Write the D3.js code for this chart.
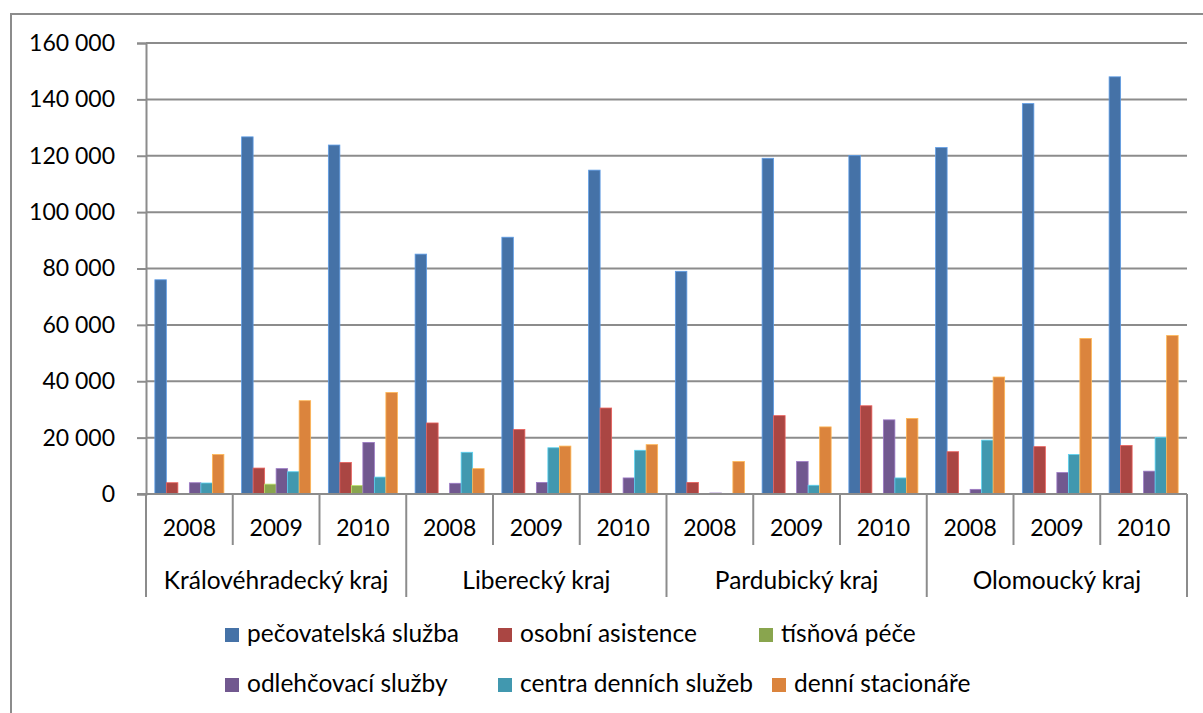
<!DOCTYPE html>
<html>
<head>
<meta charset="utf-8">
<script src="https://cdn.jsdelivr.net/npm/d3@7"></script>
<style>
  html, body { margin: 0; padding: 0; background: #fff; }
  svg { display: block; font-family: Lato, "Open Sans", sans-serif; }
</style>
</head>
<body>
<svg id="chart" width="1203" height="713"></svg>
<script>
// ---- data ----
const regions = ["Královéhradecký kraj", "Liberecký kraj", "Pardubický kraj", "Olomoucký kraj"];
const years = ["2008", "2009", "2010"];
const seriesNames = ["pečovatelská služba", "osobní asistence", "tísňová péče",
                     "odlehčovací služby", "centra denních služeb", "denní stacionáře"];
const pecovatelska = [76000, 126700, 123800, 85100, 91100, 114900, 79000, 119100, 120100, 122900, 138500, 148000];
const osobni       = [4000, 9200, 11200, 25200, 22900, 30500, 4100, 27800, 31300, 15000, 16800, 17200];
const tisnova      = [0, 3500, 3000, 0, 0, 0, 0, 0, 0, 0, 0, 0];
const odlehcovaci  = [4000, 9000, 18300, 3800, 4100, 5700, 350, 11500, 26300, 1650, 7600, 8100];
const centra       = [3900, 7900, 6000, 14800, 16400, 15500, 0, 3100, 5700, 19100, 14000, 20100];
const denni        = [14000, 33100, 36000, 9000, 17000, 17500, 11500, 23800, 26800, 41500, 55200, 56200];
const yTicks = [0, 20000, 40000, 60000, 80000, 100000, 120000, 140000, 160000];
const colors = ["#4572A7", "#AA4643", "#89A54E", "#71588F", "#4198AF", "#DB843D"];

(function () {
// ---- build ----
const seriesValues = [pecovatelska, osobni, tisnova, odlehcovaci, centra, denni];
const groups = [];
regions.forEach((r, ri) => years.forEach((yr, yi) => groups.push({ region: r, year: yr, idx: ri * 3 + yi })));

const svg = d3.select("#chart");
const pLeft = 146, pRight = 1187, pTop = 43, pBottom = 494;
const gridColor = "#8c8c8c";

// outer border
svg.append("rect").attr("x", 11).attr("y", 14).attr("width", 1203).attr("height", 713)
  .attr("fill", "none").attr("stroke", gridColor).attr("stroke-width", 2);

const y = d3.scaleLinear().domain([0, 160000]).range([pBottom, pTop]);
const x0 = d3.scaleBand().domain(groups.map(g => g.idx)).range([pLeft, pRight]).paddingInner(0).paddingOuter(0);
const x1 = d3.scaleBand().domain(d3.range(seriesNames.length)).range([0, x0.bandwidth()]).paddingInner(0).paddingOuter(0.77);

const loc = d3.formatLocale({ decimal: ",", thousands: " ", grouping: [3], currency: ["", ""] });
const fmt = loc.format(",d");

// gridlines
svg.append("g").selectAll("line").data(yTicks.filter(t => t > 0)).join("line")
  .attr("x1", pLeft).attr("x2", pRight)
  .attr("y1", d => y(d)).attr("y2", d => y(d))
  .attr("stroke", gridColor).attr("stroke-width", 2);

// y axis
const yAxis = svg.append("g").attr("transform", `translate(${pLeft},0)`)
  .call(d3.axisLeft(y).tickValues(yTicks).tickFormat(fmt).tickSize(9).tickPadding(22));
yAxis.select(".domain").attr("stroke", gridColor).attr("stroke-width", 2);
yAxis.selectAll(".tick line").attr("stroke", gridColor).attr("stroke-width", 2);
yAxis.selectAll(".tick text").attr("font-size", 23).attr("fill", "#000")
  .attr("font-family", "Lato, sans-serif");

// bars
const barData = [];
groups.forEach(g => seriesValues.forEach((vals, si) => {
  if (vals[g.idx] > 0) barData.push({ g: g.idx, s: si, v: vals[g.idx] });
}));
svg.append("g").selectAll("rect").data(barData).join("rect")
  .attr("x", d => x0(d.g) + x1(d.s))
  .attr("width", x1.bandwidth())
  .attr("y", d => y(d.v))
  .attr("height", d => y(0) - y(d.v))
  .attr("fill", d => colors[d.s])
  .attr("stroke", d => d3.color(colors[d.s]).brighter(0.9))
  .attr("stroke-width", 0.8);

// x axis baseline
svg.append("line").attr("x1", pLeft - 9).attr("x2", pRight).attr("y1", pBottom).attr("y2", pBottom)
  .attr("stroke", gridColor).attr("stroke-width", 2);

// category separators
const sepG = svg.append("g");
d3.range(groups.length + 1).forEach(i => {
  const xx = i < groups.length ? x0(i) : x0(groups.length - 1) + x0.bandwidth();
  const isRegion = i % 3 === 0;
  sepG.append("line").attr("x1", xx).attr("x2", xx).attr("y1", pBottom)
    .attr("y2", isRegion ? 597 : 545)
    .attr("stroke", gridColor).attr("stroke-width", 2);
});

// year labels
svg.append("g").selectAll("text").data(groups).join("text")
  .attr("x", d => x0(d.idx) + x0.bandwidth() / 2)
  .attr("y", 536)
  .attr("text-anchor", "middle")
  .attr("font-size", 23).attr("fill", "#000")
  .text(d => d.year);

// region labels
svg.append("g").selectAll("text").data(regions).join("text")
  .attr("x", (d, i) => (x0(i * 3) + x0(i * 3 + 2) + x0.bandwidth()) / 2)
  .attr("y", 589)
  .attr("text-anchor", "middle")
  .attr("font-size", 24.5).attr("fill", "#000")
  .text(d => d);

// legend
const legendX = [[225, 498, 759], [225, 498, 772]];
const legendY = [628, 678];
const lg = svg.append("g");
seriesNames.forEach((name, i) => {
  const row = Math.floor(i / 3), col = i % 3;
  const lx = legendX[row][col], ly = legendY[row];
  lg.append("rect").attr("x", lx).attr("y", ly).attr("width", 14).attr("height", 14).attr("fill", colors[i]);
  lg.append("text").attr("x", lx + 22).attr("y", ly + 14).attr("font-size", 24.5).attr("fill", "#000").text(name);
});
})();
</script>
</body>
</html>
